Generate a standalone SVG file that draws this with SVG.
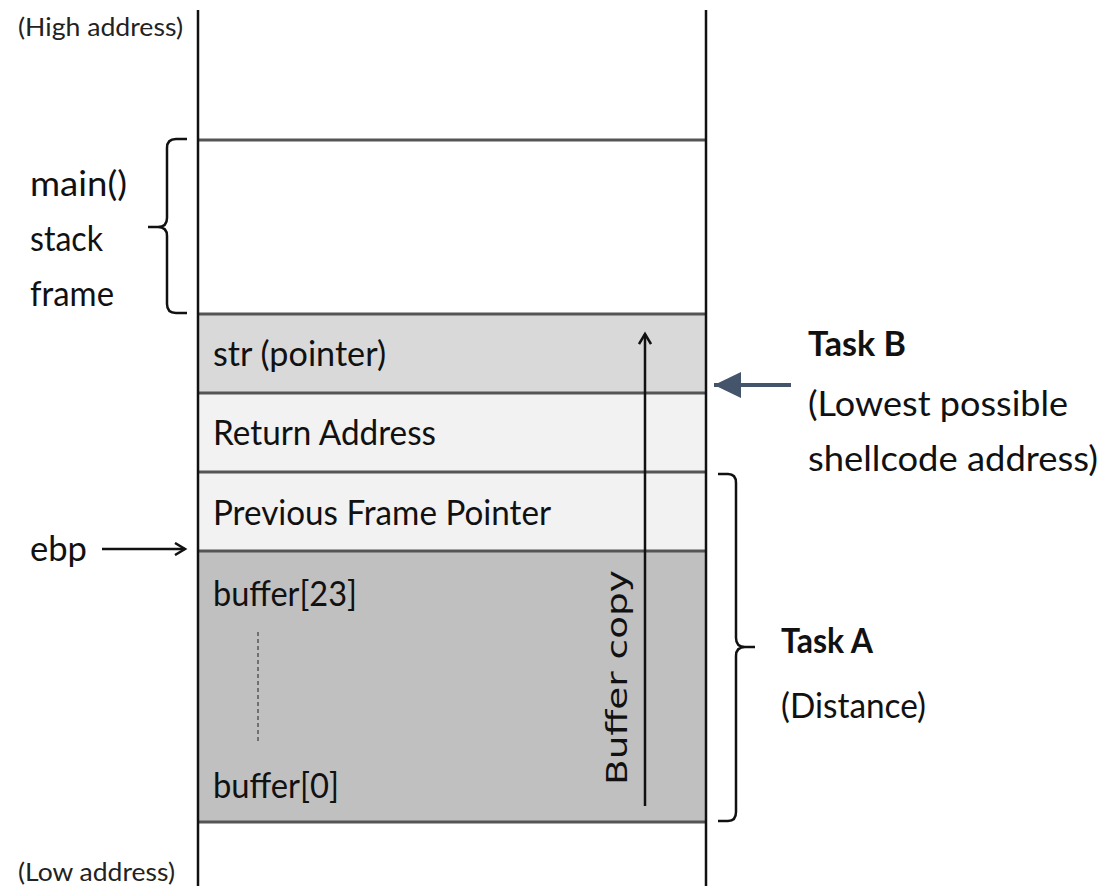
<svg xmlns="http://www.w3.org/2000/svg" width="1107" height="889" viewBox="0 0 1107 889">
<style>
.t{font-family:Lato,"Open Sans","Liberation Sans",sans-serif;font-size:34px;fill:#111}
.s{font-family:Lato,"Open Sans","Liberation Sans",sans-serif;font-size:25px;fill:#222}
.b{font-family:Lato,"Open Sans","Liberation Sans",sans-serif;font-size:34px;font-weight:bold;fill:#111}
.h{stroke:#555;stroke-width:3;fill:none}
.v{stroke:#111;stroke-width:2.5;fill:none}
.br{stroke:#111;stroke-width:2.5;fill:none}
</style>
<defs>
<marker id="open" markerWidth="14" markerHeight="14" refX="11" refY="7" orient="auto" markerUnits="userSpaceOnUse">
<path d="M1,1 L11,7 L1,13" fill="none" stroke="#111" stroke-width="2.5"/>
</marker>
<marker id="tri" markerWidth="30" markerHeight="30" refX="27" refY="14" orient="auto" markerUnits="userSpaceOnUse">
<path d="M0,1 L27,14 L0,27 Z" fill="#44546a"/>
</marker>
</defs>
<rect width="1107" height="889" fill="#fff"/>

<g id="frame-main">
<text class="t" x="30" y="196" textLength="97" lengthAdjust="spacingAndGlyphs">main()</text>
<text class="t" x="30" y="251" textLength="73" lengthAdjust="spacingAndGlyphs">stack</text>
<text class="t" x="30" y="306" textLength="84" lengthAdjust="spacingAndGlyphs">frame</text>
</g>
<g id="cell-str">
<rect x="198" y="314" width="508" height="79" fill="#d9d9d9"/>
<text class="t" x="213" y="366" textLength="173" lengthAdjust="spacingAndGlyphs">str (pointer)</text>
</g>
<g id="cell-ret">
<rect x="198" y="393" width="508" height="79" fill="#f2f2f2"/>
<text class="t" x="213" y="445" textLength="223" lengthAdjust="spacingAndGlyphs">Return Address</text>
</g>
<g id="cell-prev">
<rect x="198" y="472" width="508" height="79" fill="#f2f2f2"/>
<text class="t" x="213" y="525" textLength="338" lengthAdjust="spacingAndGlyphs">Previous Frame Pointer</text>
</g>
<g id="cell-buffer">
<rect x="198" y="551" width="508" height="271" fill="#c0c0c0"/>
<text class="t" x="213" y="606" textLength="144" lengthAdjust="spacingAndGlyphs">buffer[23]</text>
<line x1="258" y1="632" x2="258" y2="742" stroke="#555" stroke-width="1.5" stroke-dasharray="4,3"/>
<text class="t" x="213" y="798" textLength="126" lengthAdjust="spacingAndGlyphs">buffer[0]</text>
<text x="627" y="785" transform="rotate(-90 627 785)" font-family="'DejaVu Sans','Liberation Sans',sans-serif" font-size="28" fill="#111" textLength="215" lengthAdjust="spacingAndGlyphs">Buffer copy</text>
</g>

<g id="grid">
<line class="h" x1="198" y1="140" x2="706" y2="140" stroke="#888"/>
<line class="h" x1="198" y1="314" x2="706" y2="314"/>
<line class="h" x1="198" y1="393" x2="706" y2="393"/>
<line class="h" x1="198" y1="472" x2="706" y2="472"/>
<line class="h" x1="198" y1="551" x2="706" y2="551"/>
<line class="h" x1="198" y1="822" x2="706" y2="822"/>
<line class="v" x1="198" y1="10" x2="198" y2="886"/>
<line class="v" x1="706" y1="10" x2="706" y2="886"/>
</g>

<g id="labels">
<text class="s" x="18" y="36" textLength="165" lengthAdjust="spacingAndGlyphs">(High address)</text>
<text class="s" x="18" y="881" textLength="157" lengthAdjust="spacingAndGlyphs">(Low address)</text>
<text class="t" x="30" y="561" textLength="57" lengthAdjust="spacingAndGlyphs">ebp</text>
<text class="b" x="808" y="356" textLength="98" lengthAdjust="spacingAndGlyphs">Task B</text>
<text class="t" x="808" y="416" textLength="260" lengthAdjust="spacingAndGlyphs">(Lowest possible</text>
<text class="t" x="808" y="471" textLength="290" lengthAdjust="spacingAndGlyphs">shellcode address)</text>
<text class="b" x="781" y="653" textLength="92" lengthAdjust="spacingAndGlyphs">Task A</text>
<text class="t" x="781" y="718" textLength="145" lengthAdjust="spacingAndGlyphs">(Distance)</text>
</g>

<g id="connectors">
<line x1="102" y1="549" x2="185" y2="549" stroke="#111" stroke-width="2.5" marker-end="url(#open)"/>
<line x1="645" y1="806" x2="645" y2="334" stroke="#111" stroke-width="2.5" marker-end="url(#open)"/>
<line x1="791" y1="385" x2="714" y2="385" stroke="#44546a" stroke-width="4" marker-end="url(#tri)"/>
<path class="br" d="M187,139 H176 Q167,139 167,148 V218 Q167,227 158,227 H148 M158,227 Q167,227 167,236 V304 Q167,313 176,313 H187"/>
<path class="br" d="M718,474 H728 Q736,474 736,483 V638 Q736,647 745,647 H755 M745,647 Q736,647 736,656 V812 Q736,821 728,821 H718"/>
</g>
</svg>
